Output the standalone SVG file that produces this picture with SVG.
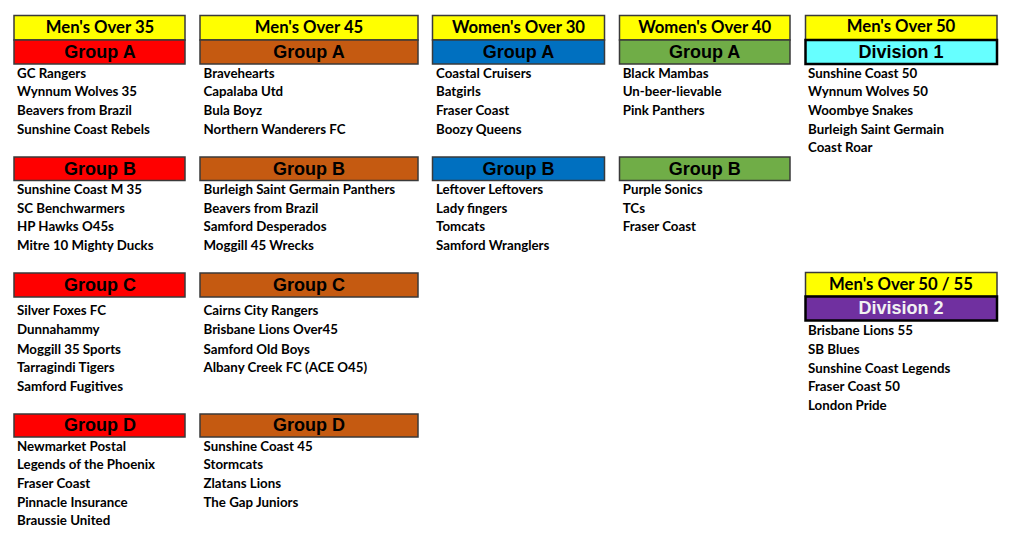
<svg xmlns="http://www.w3.org/2000/svg" width="1015" height="543" viewBox="0 0 1015 543">
<style>
rect.box{stroke:#3a3a3a;stroke-width:1.5}
rect.div{stroke:#000;stroke-width:2.5}
.yel{fill:#FFFF00}.red{fill:#FF0000}.brn{fill:#C55A11}.blu{fill:#0070C0}.grn{fill:#70AD47}.cyn{fill:#66FFFF}.pur{fill:#7030A0}
text.h{font-family:Lato,"Open Sans",sans-serif;font-weight:bold;font-size:16.7px;fill:#000;text-anchor:middle}
text.g{font-family:"Liberation Sans",Arial,sans-serif;font-weight:bold;font-size:18px;fill:#000;text-anchor:middle}
text.t{font-family:Lato,"Open Sans",sans-serif;font-weight:bold;font-size:13.3px;fill:#000}
</style>
<rect width="1015" height="543" fill="#fff"/>

<!-- Men's Over 35 -->
<g id="m35-header">
<rect class="box yel" x="14" y="15.5" width="171" height="24.5"/>
<text class="h" x="100" y="32.5">Men's Over 35</text>
</g>
<g id="m35-groupA">
<rect class="box red" x="14" y="40" width="171" height="24"/>
<text class="g" x="100" y="57.5">Group A</text>
<text class="t" x="17" y="77.7">GC Rangers</text>
<text class="t" x="17" y="96.3">Wynnum Wolves 35</text>
<text class="t" x="17" y="115">Beavers from Brazil</text>
<text class="t" x="17" y="133.7">Sunshine Coast Rebels</text>
</g>
<g id="m35-groupB">
<rect class="box red" x="14" y="157" width="171" height="23.5"/>
<text class="g" x="100" y="175">Group B</text>
<text class="t" x="17" y="194.3">Sunshine Coast M 35</text>
<text class="t" x="17" y="212.8">SC Benchwarmers</text>
<text class="t" x="17" y="231.4">HP Hawks O45s</text>
<text class="t" x="17" y="250">Mitre 10 Mighty Ducks</text>
</g>
<g id="m35-groupC">
<rect class="box red" x="14" y="273" width="171" height="24"/>
<text class="g" x="100" y="290.7">Group C</text>
<text class="t" x="17" y="315">Silver Foxes FC</text>
<text class="t" x="17" y="334.3">Dunnahammy</text>
<text class="t" x="17" y="353.5">Moggill 35 Sports</text>
<text class="t" x="17" y="372">Tarragindi Tigers</text>
<text class="t" x="17" y="390.7">Samford Fugitives</text>
</g>
<g id="m35-groupD">
<rect class="box red" x="14" y="414" width="171" height="23"/>
<text class="g" x="100" y="431.3">Group D</text>
<text class="t" x="17" y="450.7">Newmarket Postal</text>
<text class="t" x="17" y="469.3">Legends of the Phoenix</text>
<text class="t" x="17" y="488">Fraser Coast</text>
<text class="t" x="17" y="506.7">Pinnacle Insurance</text>
<text class="t" x="17" y="525.3">Braussie United</text>
</g>

<!-- Men's Over 45 -->
<g id="m45-header">
<rect class="box yel" x="200" y="15.5" width="218" height="24.5"/>
<text class="h" x="309" y="32.5">Men's Over 45</text>
</g>
<g id="m45-groupA">
<rect class="box brn" x="200" y="40" width="218" height="24"/>
<text class="g" x="309" y="57.5">Group A</text>
<text class="t" x="203.5" y="77.7">Bravehearts</text>
<text class="t" x="203.5" y="96.3">Capalaba Utd</text>
<text class="t" x="203.5" y="115">Bula Boyz</text>
<text class="t" x="203.5" y="133.7">Northern Wanderers FC</text>
</g>
<g id="m45-groupB">
<rect class="box brn" x="200" y="157" width="218" height="23.5"/>
<text class="g" x="309" y="175">Group B</text>
<text class="t" x="203.5" y="194.3">Burleigh Saint Germain Panthers</text>
<text class="t" x="203.5" y="212.8">Beavers from Brazil</text>
<text class="t" x="203.5" y="231.4">Samford Desperados</text>
<text class="t" x="203.5" y="250">Moggill 45 Wrecks</text>
</g>
<g id="m45-groupC">
<rect class="box brn" x="200" y="273" width="218" height="24"/>
<text class="g" x="309" y="290.7">Group C</text>
<text class="t" x="203.5" y="315">Cairns City Rangers</text>
<text class="t" x="203.5" y="334.3">Brisbane Lions Over45</text>
<text class="t" x="203.5" y="353.5">Samford Old Boys</text>
<text class="t" x="203.5" y="372">Albany Creek FC (ACE O45)</text>
</g>
<g id="m45-groupD">
<rect class="box brn" x="200" y="414" width="218" height="23"/>
<text class="g" x="309" y="431.3">Group D</text>
<text class="t" x="203.5" y="450.7">Sunshine Coast 45</text>
<text class="t" x="203.5" y="469.3">Stormcats</text>
<text class="t" x="203.5" y="488">Zlatans Lions</text>
<text class="t" x="203.5" y="506.7">The Gap Juniors</text>
</g>

<!-- Women's Over 30 -->
<g id="w30-header">
<rect class="box yel" x="432.5" y="15.5" width="172" height="24.5"/>
<text class="h" x="518.5" y="32.5">Women's Over 30</text>
</g>
<g id="w30-groupA">
<rect class="box blu" x="432.5" y="40" width="172" height="24"/>
<text class="g" x="518.5" y="57.5">Group A</text>
<text class="t" x="436" y="77.7">Coastal Cruisers</text>
<text class="t" x="436" y="96.3">Batgirls</text>
<text class="t" x="436" y="115">Fraser Coast</text>
<text class="t" x="436" y="133.7">Boozy Queens</text>
</g>
<g id="w30-groupB">
<rect class="box blu" x="432.5" y="157" width="172" height="23.5"/>
<text class="g" x="518.5" y="175">Group B</text>
<text class="t" x="436" y="194.3">Leftover Leftovers</text>
<text class="t" x="436" y="212.8">Lady fingers</text>
<text class="t" x="436" y="231.4">Tomcats</text>
<text class="t" x="436" y="250">Samford Wranglers</text>
</g>

<!-- Women's Over 40 -->
<g id="w40-header">
<rect class="box yel" x="619.5" y="15.5" width="170.5" height="24.5"/>
<text class="h" x="704.7" y="32.5">Women's Over 40</text>
</g>
<g id="w40-groupA">
<rect class="box grn" x="619.5" y="40" width="170.5" height="24"/>
<text class="g" x="704.7" y="57.5">Group A</text>
<text class="t" x="622.7" y="77.7">Black Mambas</text>
<text class="t" x="622.7" y="96.3">Un-beer-lievable</text>
<text class="t" x="622.7" y="115">Pink Panthers</text>
</g>
<g id="w40-groupB">
<rect class="box grn" x="619.5" y="157" width="170.5" height="23.5"/>
<text class="g" x="704.7" y="175">Group B</text>
<text class="t" x="622.7" y="194.3">Purple Sonics</text>
<text class="t" x="622.7" y="212.8">TCs</text>
<text class="t" x="622.7" y="231.4">Fraser Coast</text>
</g>

<!-- Men's Over 50 -->
<g id="m50-header">
<rect class="box yel" x="805.5" y="15.5" width="191.5" height="24.5"/>
<text class="h" x="901" y="32.3">Men's Over 50</text>
</g>
<g id="m50-division1">
<rect class="div cyn" x="805.5" y="40" width="191.5" height="24"/>
<text class="g" x="901" y="57.5">Division 1</text>
<text class="t" x="808" y="77.7">Sunshine Coast 50</text>
<text class="t" x="808" y="96.3">Wynnum Wolves 50</text>
<text class="t" x="808" y="115">Woombye Snakes</text>
<text class="t" x="808" y="133.7">Burleigh Saint Germain</text>
<text class="t" x="808" y="152.3">Coast Roar</text>
</g>

<!-- Men's Over 50 / 55 -->
<g id="m5055-header">
<rect class="box yel" x="805.5" y="272.5" width="191.5" height="24"/>
<text class="h" x="901" y="289.5">Men's Over 50 / 55</text>
</g>
<g id="m5055-division2">
<rect class="div pur" x="805.5" y="296.5" width="191.5" height="24"/>
<text class="g" x="901" y="314.3" style="fill:#F2F2F2">Division 2</text>
<text class="t" x="808" y="335">Brisbane Lions 55</text>
<text class="t" x="808" y="354">SB Blues</text>
<text class="t" x="808" y="372.5">Sunshine Coast Legends</text>
<text class="t" x="808" y="391">Fraser Coast 50</text>
<text class="t" x="808" y="409.7">London Pride</text>
</g>
</svg>
